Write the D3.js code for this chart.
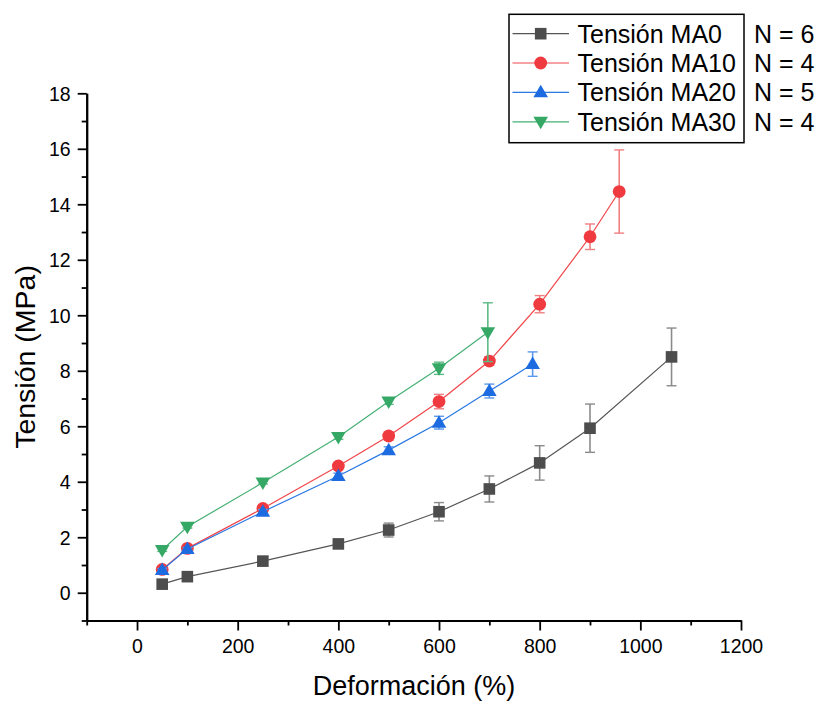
<!DOCTYPE html>
<html>
<head>
<meta charset="utf-8">
<script src="https://cdn.jsdelivr.net/npm/d3@7/dist/d3.min.js"></script>
<style>
  html, body { margin: 0; padding: 0; background: #fff; }
  svg { display: block; font-family: "Liberation Sans", Arial, sans-serif; }
</style>
</head>
<body>
<svg id="chart" width="819" height="703"></svg>
<script>
// ---- data ----
const seriesNames = ["Tensión MA0", "Tensión MA10", "Tensión MA20", "Tensión MA30"];
const nLabels = ["N = 6", "N = 4", "N = 5", "N = 4"];

const ma0X = [50, 100, 250, 400, 500, 600, 700, 800, 900, 1062];
const ma0Y = [0.31, 0.58, 1.14, 1.76, 2.26, 2.92, 3.74, 4.68, 5.93, 8.50];
const ma0E = [0.05, 0.05, 0.08, 0.08, 0.25, 0.33, 0.47, 0.62, 0.87, 1.04];

const ma10X = [50, 100, 250, 400, 500, 600, 700, 800, 900, 958];
const ma10Y = [0.84, 1.60, 3.04, 4.57, 5.65, 6.89, 8.35, 10.40, 12.83, 14.46];
const ma10E = [0.08, 0.08, 0.08, 0.1, 0.15, 0.26, 0.15, 0.31, 0.46, 1.5];

const ma20X = [50, 100, 250, 400, 500, 600, 700, 786];
const ma20Y = [0.82, 1.58, 2.92, 4.21, 5.14, 6.13, 7.27, 8.24];
const ma20E = [0.05, 0.05, 0.08, 0.1, 0.12, 0.23, 0.25, 0.44];

const ma30X = [50, 100, 250, 400, 500, 600, 697];
const ma30Y = [1.54, 2.38, 3.97, 5.61, 6.89, 8.09, 9.39];
const ma30E = [0.05, 0.05, 0.05, 0.08, 0.1, 0.22, 1.06];

const xMajorTicks = [0, 200, 400, 600, 800, 1000, 1200];
const xMinorTicks = [-100, 100, 300, 500, 700, 900, 1100];
const yMajorTicks = [0, 2, 4, 6, 8, 10, 12, 14, 16, 18];
const yMinorTicks = [-1, 1, 3, 5, 7, 9, 11, 13, 15, 17];

const xTitle = "Deformación (%)";
const yTitle = "Tensión (MPa)";

// ---- styles ----
const styles = [
  { line: "#555555", fill: "#4d4d4d", err: "#8a8a8a", shape: "square" },
  { line: "#f0464a", fill: "#ef3a3f", err: "#f07f82", shape: "circle" },
  { line: "#2a78e4", fill: "#1c6be0", err: "#5a98ec", shape: "up" },
  { line: "#45b074", fill: "#35a866", err: "#5dbb86", shape: "down" }
];

const series = [
  { x: ma0X, y: ma0Y, e: ma0E },
  { x: ma10X, y: ma10Y, e: ma10E },
  { x: ma20X, y: ma20Y, e: ma20E },
  { x: ma30X, y: ma30Y, e: ma30E }
];

const svg = d3.select("#chart");

const x = d3.scaleLinear().domain([-100, 1200]).range([86.7, 741]);
const y = d3.scaleLinear().domain([-1, 18]).range([620.5, 93.3]);

// ---- axes ----
const xAxisG = svg.append("g").attr("transform", `translate(0,${y(-1)})`);
xAxisG.call(d3.axisBottom(x).tickValues(xMajorTicks).tickSize(10).tickSizeOuter(0).tickPadding(5).tickFormat(d3.format("d")));
const xMinorG = svg.append("g").attr("transform", `translate(0,${y(-1)})`);
xMinorG.call(d3.axisBottom(x).tickValues(xMinorTicks).tickSize(5).tickSizeOuter(0).tickFormat(""));

const yAxisG = svg.append("g").attr("transform", `translate(${x(-100)},0)`);
yAxisG.call(d3.axisLeft(y).tickValues(yMajorTicks).tickSize(9).tickSizeOuter(0).tickPadding(7).tickFormat(d3.format("d")));
const yMinorG = svg.append("g").attr("transform", `translate(${x(-100)},0)`);
yMinorG.call(d3.axisLeft(y).tickValues(yMinorTicks).tickSize(5).tickSizeOuter(0).tickFormat(""));

[xAxisG, xMinorG, yAxisG, yMinorG].forEach(g => {
  g.select(".domain").attr("stroke", "#000").attr("stroke-width", 2);
  g.selectAll(".tick line").attr("stroke", "#000").attr("stroke-width", 1.8);
  g.selectAll(".tick text").attr("fill", "#000").style("font-size", "19.5px")
    .style("font-family", '"Liberation Sans", Arial, sans-serif');
});
xAxisG.selectAll(".tick text").attr("y", 0).attr("dy", "0").attr("transform", "translate(0,32)");
yAxisG.selectAll(".tick text").attr("dy", "0.36em");

// axis titles
svg.append("text").attr("x", 414).attr("y", 695).attr("text-anchor", "middle")
  .style("font-size", "27px").attr("fill", "#000").text(xTitle);
svg.append("text").attr("transform", `translate(35,357) rotate(-90)`).attr("text-anchor", "middle")
  .style("font-size", "28.5px").attr("fill", "#000").text(yTitle);

// ---- marker drawing ----
function drawMarker(g, shape, cx, cy, fill) {
  if (shape === "square") {
    g.append("rect").attr("x", cx - 5.8).attr("y", cy - 5.8).attr("width", 11.6).attr("height", 11.6).attr("fill", fill);
  } else if (shape === "circle") {
    g.append("circle").attr("cx", cx).attr("cy", cy).attr("r", 6.4).attr("fill", fill);
  } else if (shape === "up") {
    g.append("path").attr("d", `M${cx},${cy - 7.5} L${cx + 7.3},${cy + 5} L${cx - 7.3},${cy + 5} Z`).attr("fill", fill);
  } else {
    g.append("path").attr("d", `M${cx},${cy + 7.5} L${cx + 7.3},${cy - 5} L${cx - 7.3},${cy - 5} Z`).attr("fill", fill);
  }
}

// ---- series ----
const line = d3.line().x(d => x(d[0])).y(d => y(d[1]));
series.forEach((s, i) => {
  const st = styles[i];
  const g = svg.append("g");
  const pts = s.x.map((v, k) => [v, s.y[k], s.e[k]]);
  g.append("path").attr("d", line(pts)).attr("fill", "none").attr("stroke", st.line).attr("stroke-width", 1.2);
  // error bars
  pts.forEach(p => {
    const cx = x(p[0]), top = y(p[1] + p[2]), bot = y(p[1] - p[2]);
    g.append("line").attr("x1", cx).attr("x2", cx).attr("y1", top).attr("y2", bot).attr("stroke", st.err).attr("stroke-width", 1.6);
    [top, bot].forEach(yy => g.append("line").attr("x1", cx - 5).attr("x2", cx + 5).attr("y1", yy).attr("y2", yy).attr("stroke", st.err).attr("stroke-width", 1.4));
  });
  pts.forEach(p => drawMarker(g, st.shape, x(p[0]), y(p[1]), st.fill));
});

// ---- legend ----
const lg = svg.append("g");
lg.append("rect").attr("x", 509).attr("y", 14.3).attr("width", 235).attr("height", 128.4)
  .attr("fill", "#fff").attr("stroke", "#000").attr("stroke-width", 1.5);
const rowY = [33.7, 63, 92.3, 121.8];
seriesNames.forEach((name, i) => {
  const st = styles[i];
  const cy = rowY[i];
  lg.append("line").attr("x1", 512.5).attr("x2", 569).attr("y1", cy).attr("y2", cy).attr("stroke", st.line).attr("stroke-width", 1.2);
  drawMarker(lg, st.shape, 540.7, cy, st.fill);
  lg.append("text").attr("x", 577.5).attr("y", cy + 9).style("font-size", "25px").attr("fill", "#000").text(name);
  svg.append("text").attr("x", 754).attr("y", cy + 9).style("font-size", "25px").attr("fill", "#000").text(nLabels[i]);
});
</script>
</body>
</html>
